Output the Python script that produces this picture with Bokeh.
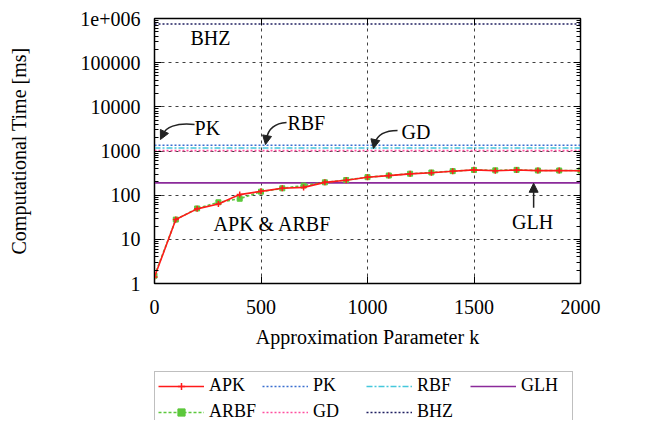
from bokeh.plotting import figure
from bokeh.layouts import column
from bokeh.models import (Range1d, FixedTicker, LinearAxis, LogAxis, Legend, LegendItem,
                          Arrow, NormalHead)
from bokeh.core.properties import value
from bokeh.embed import file_html
from bokeh.resources import INLINE

# ---------------- data ----------------
k = [0, 100, 200, 300, 400, 500, 600, 700, 800, 900, 1000,
     1100, 1200, 1300, 1400, 1500, 1600, 1700, 1800, 1900, 2000]
apk = [1.4, 28, 49, 63, 103, 122, 143, 150, 195, 217, 254,
       277, 304, 322, 347, 374, 356, 372, 360, 360, 358]
arbf = [1.5, 28, 50, 69, 83, 120, 143, 165, 195, 220, 256,
        279, 306, 326, 350, 372, 365, 374, 362, 362, 360]
pk_time = 1350
rbf_time = 1170
gd_time = 1020
glh_time = 190
bhz_time = 750000

y_ticks = [1, 10, 100, 1000, 10000, 100000, 1000000]
y_tick_labels = ["1", "10", "100", "1000", "10000", "100000", "1e+006"]
x_ticks = [0, 500, 1000, 1500, 2000]

FONT = "Liberation Serif"

# series styles: name -> (color, dash, width, marker)
styles = {
    "APK": ("#ff1a1a", "solid", 1.6, "cross"),
    "ARBF": ("#5cc83c", "3 2", 1.6, "square"),
    "PK": ("#3a6fd0", "2 2", 1.6, None),
    "RBF": ("#45c8dc", "6 2 2 2", 1.6, None),
    "GD": ("#ff4f9f", "2 2", 1.6, None),
    "GLH": ("#8b2a9a", "solid", 1.6, None),
    "BHZ": ("#1f1f60", "2 2", 1.6, None),
}

p = figure(width=638, height=368, output_backend="svg", toolbar_location=None,
           y_axis_type="log", x_range=Range1d(0, 2000), y_range=Range1d(1, 1e6),
           min_border_left=154, min_border_right=58, min_border_top=18,
           min_border_bottom=85)

p.outline_line_color = "black"
p.outline_line_width = 1.5
p.background_fill_color = "white"
p.border_fill_color = "white"

minor_y = [m * 10 ** e for e in range(0, 6) for m in range(2, 10)]

# axes
p.xaxis.ticker = FixedTicker(ticks=x_ticks)
p.yaxis.ticker = FixedTicker(ticks=y_ticks, minor_ticks=minor_y)
p.yaxis.major_label_overrides = {t: l for t, l in zip(y_ticks, y_tick_labels)}
for ax in (p.xaxis[0], p.yaxis[0]):
    ax.major_label_text_font = FONT
    ax.major_label_text_font_size = "20px"
    ax.major_label_text_color = "black"
    ax.axis_label_text_font = FONT
    ax.axis_label_text_font_size = "20px"
    ax.axis_label_text_font_style = "normal"
    ax.axis_label_text_color = "black"
    ax.major_tick_in = 7
    ax.major_tick_out = 0
    ax.minor_tick_in = 4
    ax.minor_tick_out = 0
    ax.axis_line_color = "black"
    ax.major_tick_line_color = "black"
    ax.minor_tick_line_color = "black"
p.xaxis.minor_tick_line_color = None
p.xaxis.axis_label = "Approximation Parameter k"
p.yaxis.axis_label = "Computational Time [ms]"
p.xaxis.major_label_standoff = 16
p.xaxis.axis_label_standoff = 9
p.yaxis.major_label_standoff = 14
p.yaxis.axis_label_standoff = 47

top_axis = LinearAxis(ticker=FixedTicker(ticks=x_ticks), major_label_text_font_size="2px",
                      major_label_text_color=None, major_label_standoff=0,
                      major_tick_in=7, major_tick_out=0,
                      minor_tick_line_color=None, axis_line_color="black")
right_axis = LogAxis(ticker=FixedTicker(ticks=y_ticks, minor_ticks=minor_y),
                     major_label_text_font_size="2px", major_label_text_color=None,
                     major_label_standoff=0,
                     major_tick_in=7, major_tick_out=0, minor_tick_in=4, minor_tick_out=0,
                     axis_line_color="black")
p.add_layout(top_axis, "above")
p.add_layout(right_axis, "right")

# grid
p.xgrid.ticker = FixedTicker(ticks=x_ticks)
p.ygrid.ticker = FixedTicker(ticks=y_ticks)
for g in (p.xgrid[0], p.ygrid[0]):
    g.grid_line_color = "black"
    g.grid_line_alpha = 0.75
    g.grid_line_dash = "3 4"
    g.grid_line_width = 1
p.ygrid.minor_grid_line_color = None

# constant lines
def const(v):
    return [v] * len(k)

def sty(name):
    c, d, w, _ = styles[name]
    return dict(line_color=c, line_dash=d, line_width=w)

p.line(k, const(pk_time), **sty("PK"))
p.line(k, const(rbf_time), **sty("RBF"))
p.line(k, const(gd_time), **sty("GD"))
p.line(k, const(glh_time), **sty("GLH"))
p.line(k, const(bhz_time), **sty("BHZ"))

# series
p.line(k, arbf, **sty("ARBF"))
p.scatter(k, arbf, marker="square", size=5, fill_color=styles["ARBF"][0],
          line_color=styles["ARBF"][0])
p.line(k, apk, **sty("APK"))
p.scatter(k, apk, marker="cross", size=6, line_color=styles["APK"][0], line_width=1.5)

# annotations
tf = value(FONT)
p.text(x=[263], y=[371000], text=["BHZ"], text_font=tf, text_font_size="20px",
       text_align="center", text_baseline="middle", text_color="black")
p.text(x=[188], y=[3400], text=["PK"], text_font=tf, text_font_size="20px",
       text_align="left", text_baseline="middle", text_color="black")
p.text(x=[624], y=[4200], text=["RBF"], text_font=tf, text_font_size="20px",
       text_align="left", text_baseline="middle", text_color="black")
p.text(x=[1160], y=[2760], text=["GD"], text_font=tf, text_font_size="20px",
       text_align="left", text_baseline="middle", text_color="black")
p.text(x=[554], y=[21.7], text=["APK & ARBF"], text_font=tf, text_font_size="20px",
       text_align="center", text_baseline="middle", text_color="black")
p.text(x=[1775], y=[25.3], text=["GLH"], text_font=tf, text_font_size="20px",
       text_align="center", text_baseline="middle", text_color="black")

# curved arrows
p.bezier(x0=[188, 620, 1141], y0=[3980, 4420, 2910],
         x1=[40, 526, 1033], y1=[2400, 1910, 1480],
         cx0=[99, 549, 1070], cy0=[4420, 4200, 2910],
         cx1=[52, 531, 1042], cy1=[3390, 2620, 2020],
         line_color="#222222", line_width=1.5)
for xs, ys, xe, ye in [(42, 2500, 28, 1820), (526, 1910, 521, 1400), (1033, 1480, 1028, 1140)]:
    p.add_layout(Arrow(end=NormalHead(size=9, fill_color="#222222", line_color="#222222"),
                       x_start=xs, y_start=ys, x_end=xe, y_end=ye,
                       line_color="#222222", line_width=1.5))
p.add_layout(Arrow(end=NormalHead(size=9, fill_color="#222222", line_color="#222222"),
                   x_start=1780, y_start=52, x_end=1780, y_end=186,
                   line_color="#222222", line_width=1.5))

# ---------------- legend strip ----------------
q = figure(width=638, height=52, output_backend="svg", toolbar_location=None,
           x_range=Range1d(0, 1), y_range=Range1d(0, 1),
           x_axis_location=None, y_axis_location=None,
           min_border_left=154, min_border_right=58, min_border_top=0, min_border_bottom=0)
q.outline_line_color = None
q.grid.visible = False
q.background_fill_color = "white"
q.border_fill_color = "white"

legend_order = ["APK", "PK", "RBF", "GLH", "ARBF", "GD", "BHZ"]
off = [5, 6]  # proxy glyphs kept outside the visible range; they only feed the legend
items = []
for name in legend_order:
    c, d, w, m = styles[name]
    rs = [q.line(off, off, line_color=c, line_dash=d, line_width=w)]
    if m == "cross":
        rs.append(q.scatter(off, off, marker="cross", size=6, line_color=c, line_width=1.5))
    elif m == "square":
        rs.append(q.scatter(off, off, marker="square", size=5, fill_color=c, line_color=c))
    items.append(LegendItem(label=name, renderers=rs, index=0))

legend = Legend(items=items, orientation="horizontal", ncols=4, location=(0, -6),
                label_text_font=FONT, label_text_font_size="18px", label_text_color="black",
                glyph_width=46, glyph_height=18, label_standoff=5, label_width=48,
                label_height=18, spacing=5, padding=3, margin=0,
                border_line_color="#808080", border_line_width=1.5,
                background_fill_color="white", background_fill_alpha=1.0)
q.add_layout(legend, "center")

layout = column(p, q, spacing=0)
open("out.html", "w").write(file_html(layout, INLINE))
